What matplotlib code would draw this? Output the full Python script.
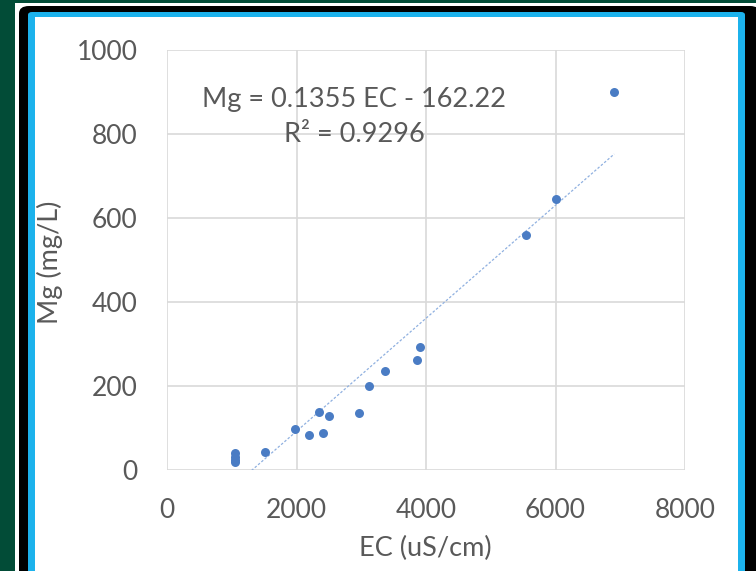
import numpy as np
import matplotlib
matplotlib.use("Agg")
import matplotlib.pyplot as plt
from matplotlib.patches import FancyBboxPatch, Rectangle

# EC (uS/cm) and Mg (mg/L) values
ec = [1050, 1050, 1050, 1050, 1513, 1976, 2198, 2352, 2409, 2506,
      2965, 3119, 3371, 3866, 3901, 5543, 6006, 6907]
mg = [40, 32, 25, 20, 43, 97, 83, 137, 87, 128,
      136, 200, 236, 262, 294, 560, 645, 899]

eq_text = "Mg = 0.1355 EC - 162.22"
r2_text = "R² = 0.9296"
x_ticks = [0, 2000, 4000, 6000, 8000]
y_ticks = [0, 200, 400, 600, 800, 1000]

W, H = 756, 571
plt.rcParams['font.family'] = ['Lato', 'DejaVu Sans']
GREY = "#595959"

fig = plt.figure(figsize=(W / 100, H / 100), dpi=100)
fig.patch.set_facecolor("white")


def box(x0, y0, x1, y1, color, rounded=0):
    # pixel coords (top-left origin) -> figure fraction
    if rounded:
        p = FancyBboxPatch((x0 / W, 1 - y1 / H), (x1 - x0) / W, (y1 - y0) / H,
                           boxstyle=f"round,pad=0,rounding_size={rounded / W}",
                           transform=fig.transFigure, facecolor=color,
                           edgecolor="none", zorder=0)
    else:
        p = Rectangle((x0 / W, 1 - y1 / H), (x1 - x0) / W, (y1 - y0) / H,
                      transform=fig.transFigure, facecolor=color,
                      edgecolor="none", zorder=0)
    fig.add_artist(p)


# background frame
box(0, 0, 15, H, "#024c37")
box(0, 0, W, 3, "#024c37")
box(19, 6, 760, H + 30, "black", rounded=10)
box(28, 12, 745, H + 30, "#1cb2ec", rounded=4)
box(35, 17, 738, H + 30, "white")

ax = fig.add_axes([167 / W, 1 - 470 / H, (685 - 167) / W, (470 - 50) / H])
ax.set_facecolor("none")
ax.set_xlim(0, 8000)
ax.set_ylim(0, 1000)
ax.set_xticks(x_ticks)
ax.set_yticks(y_ticks)
ax.grid(True, color="#d9d9d9", linewidth=1.2)
ax.set_axisbelow(True)
for s in ax.spines.values():
    s.set_visible(False)
ax.tick_params(length=0, labelsize=19, colors=GREY)
ax.tick_params(axis="x", pad=20)
ax.tick_params(axis="y", pad=21)

ax.scatter(ec, mg, s=42, color="#4a7cc4", zorder=3, linewidths=0)

coef = np.polyfit(ec, mg, 1)
xs = np.array([min(ec), max(ec)])
ax.plot(xs, np.polyval(coef, xs), color="#8fb0e0", linewidth=0.9,
        linestyle=(0, (2, 1.5)), zorder=2)

fig.text(354 / W, 1 - 99 / H, eq_text, fontsize=19.5, color=GREY,
         ha="center", va="center")
fig.text(354 / W, 1 - 134 / H, r2_text, fontsize=19.5, color=GREY,
         ha="center", va="center")

fig.text(425 / W, 1 - 548 / H, "EC (uS/cm)", fontsize=19.5, color=GREY,
         ha="center", va="center")
fig.text(50 / W, 1 - 262 / H, "Mg (mg/L)", fontsize=19.5, color=GREY,
         ha="center", va="center", rotation=90)

fig.savefig("out.png", dpi=100)
